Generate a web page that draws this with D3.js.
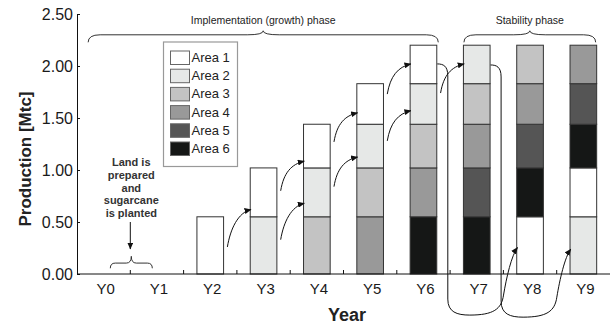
<!DOCTYPE html>
<html>
<head>
<meta charset="utf-8">
<script src="https://cdn.jsdelivr.net/npm/d3@7"></script>
<style>
  html, body { margin: 0; padding: 0; background: #ffffff; }
  svg { display: block; font-family: "Liberation Sans", Arial, sans-serif; }
</style>
</head>
<body>
<svg id="chart" width="613" height="329"></svg>
<script>
// ---------------- data ----------------
const years = ["Y0", "Y1", "Y2", "Y3", "Y4", "Y5", "Y6", "Y7", "Y8", "Y9"];
const areas = ["Area 1", "Area 2", "Area 3", "Area 4", "Area 5", "Area 6"];
const areaColors = ["#ffffff", "#e6e8e7", "#c3c3c3", "#999999", "#555555", "#151716"];

// production [Mtc] of each area per year (Y0..Y9)
const area1 = [0, 0, 0.55, 0.47, 0.42, 0.39, 0.37, 0,    0.55, 0.47];
const area2 = [0, 0, 0,    0.55, 0.47, 0.42, 0.39, 0.37, 0,    0.55];
const area3 = [0, 0, 0,    0,    0.55, 0.47, 0.42, 0.39, 0.37, 0   ];
const area4 = [0, 0, 0,    0,    0,    0.55, 0.47, 0.42, 0.39, 0.37];
const area5 = [0, 0, 0,    0,    0,    0,    0,    0.47, 0.42, 0.39];
const area6 = [0, 0, 0,    0,    0,    0,    0.55, 0.55, 0.47, 0.42];
const areaSeries = [area1, area2, area3, area4, area5, area6];

const yTicks = [0, 0.5, 1.0, 1.5, 2.0, 2.5];
const yTitle = "Production [Mtc]";
const xTitle = "Year";

const phases = [
  { label: "Implementation (growth) phase", from: "Y0", to: "Y6" },
  { label: "Stability phase", from: "Y7", to: "Y9" }
];
const plantingNote = ["Land is", "prepared", "and", "sugarcane", "is planted"];

// short arrows: area shifting one position up next year (values in Mtc)
const shiftArrows = [
  { from: "Y2", to: "Y3", v0: 0.26, v1: 0.62 },
  { from: "Y3", to: "Y4", v0: 0.33, v1: 0.68 },
  { from: "Y3", to: "Y4", v0: 0.80, v1: 1.085 },
  { from: "Y4", to: "Y5", v0: 0.84, v1: 1.125 },
  { from: "Y4", to: "Y5", v0: 1.27, v1: 1.55 },
  { from: "Y5", to: "Y6", v0: 1.28, v1: 1.57 },
  { from: "Y5", to: "Y6", v0: 1.73, v1: 2.02 },
  { from: "Y6", to: "Y7", v0: 1.74, v1: 2.02 }
];
// long arrows: replanting of the oldest area
const replantArrows = [
  { from: "Y6", to: "Y8", v0: 2.02, vLow: -0.395, v1: 0.255 },
  { from: "Y7", to: "Y9", v0: 2.01, vLow: -0.415, v1: 0.24 }
];

// ---------------- layout ----------------
const svg = d3.select("#chart");
const mLeft = 77, mRight = 610, mTop = 14, mBottom = 274;
const ink = "#222";

const x = d3.scaleBand().domain(years).range([mLeft, mRight]).paddingInner(0.5).paddingOuter(0.25);
const y = d3.scaleLinear().domain([0, 2.5]).range([mBottom, mTop]);
const bw = x.bandwidth();
const step = x.step();
const cx = d => x(d) + bw / 2;
const boundaryBefore = d => x(d) - (step - bw) / 2;

// defs: arrowhead
svg.append("defs").append("marker")
  .attr("id", "ah").attr("viewBox", "0 -3 7 6")
  .attr("refX", 6.5).attr("refY", 0)
  .attr("markerWidth", 7).attr("markerHeight", 6)
  .attr("markerUnits", "userSpaceOnUse")
  .attr("orient", "auto")
  .append("path").attr("d", "M0,-3L7,0L0,3Z").attr("fill", "#111");

// ---------------- bars ----------------
const stacks = [];
years.forEach((yr, i) => {
  const items = areaSeries.map((s, a) => ({ a, v: s[i] })).filter(d => d.v > 0)
    .sort((p, q) => q.v - p.v);
  let acc = 0;
  items.forEach(d => { stacks.push({ year: yr, a: d.a, y0: acc, y1: acc + d.v }); acc += d.v; });
});

svg.append("g").selectAll("rect").data(stacks).join("rect")
  .attr("x", d => x(d.year))
  .attr("width", bw)
  .attr("y", d => y(d.y1))
  .attr("height", d => y(d.y0) - y(d.y1))
  .attr("fill", d => areaColors[d.a])
  .attr("stroke", "#333").attr("stroke-width", 1);

// ---------------- axes ----------------
const yAxis = d3.axisLeft(y).tickValues(yTicks).tickFormat(d3.format(".2f"))
  .tickSizeInner(-3).tickSizeOuter(0).tickPadding(4);
const gy = svg.append("g").attr("transform", `translate(${mLeft},0)`).call(yAxis);
gy.select(".domain").attr("stroke", "#111");
gy.selectAll(".tick line").attr("stroke", "#111");
gy.selectAll("text").attr("font-size", 16).attr("fill", "#1a1a1a").attr("font-family", "Liberation Sans, Arial, sans-serif");

const xAxis = d3.axisBottom(x).tickSize(0).tickPadding(9);
const gx = svg.append("g").attr("transform", `translate(0,${mBottom})`).call(xAxis);
gx.select(".domain").attr("d", `M${mLeft},0H${mRight}`).attr("stroke", "#111");
gx.selectAll("text").attr("font-size", 15).attr("fill", "#1a1a1a").attr("dx", 2)
  .attr("font-family", "Liberation Sans, Arial, sans-serif");
// small inner ticks at category boundaries
svg.append("g").selectAll("line").data(years.slice(1)).join("line")
  .attr("x1", d => boundaryBefore(d)).attr("x2", d => boundaryBefore(d))
  .attr("y1", mBottom).attr("y2", mBottom - 4)
  .attr("stroke", "#111");

// axis titles
svg.append("text")
  .attr("transform", `translate(31,${(mTop + mBottom) / 2 + 15}) rotate(-90)`)
  .attr("text-anchor", "middle").attr("font-size", 17).attr("font-weight", "bold").attr("fill", ink)
  .text(yTitle);
svg.append("text")
  .attr("x", (mLeft + mRight) / 2 + 3.5).attr("y", 321)
  .attr("text-anchor", "middle").attr("font-size", 18).attr("font-weight", "bold").attr("fill", ink)
  .text(xTitle);

// ---------------- braces ----------------
function brace(x0, x1, yEnd, yFlat, yTip, r, rc) {
  const xc = (x0 + x1) / 2;
  return `M${x0},${yEnd}Q${x0},${yFlat} ${x0 + r},${yFlat}L${xc - rc},${yFlat}` +
    `Q${xc},${yFlat} ${xc},${yTip}Q${xc},${yFlat} ${xc + rc},${yFlat}` +
    `L${x1 - r},${yFlat}Q${x1},${yFlat} ${x1},${yEnd}`;
}
const gPh = svg.append("g");
const yFlat = y(2.3);
phases.forEach((p, i) => {
  const x0 = i === 0 ? cx(p.from) - 15.5 : x(p.from) + 0.5;
  const x1 = x(p.to) + bw + 0.5 - (i === 0 ? -1 : 1.5);
  gPh.append("path").attr("d", brace(x0, x1, yFlat + 7.5, yFlat, yFlat - 4, 12, 16))
    .attr("fill", "none").attr("stroke", "#333").attr("stroke-width", 1);
  gPh.append("text").attr("x", (x0 + x1) / 2).attr("y", yFlat - 11)
    .attr("text-anchor", "middle").attr("font-size", 10.5).attr("fill", ink).text(p.label);
});

// planting note
const noteX = boundaryBefore("Y1") + 1;
const gNote = svg.append("g");
plantingNote.forEach((t, i) => {
  gNote.append("text").attr("x", noteX).attr("y", 166 + i * 12.75)
    .attr("text-anchor", "middle").attr("font-size", 11).attr("font-weight", "bold")
    .attr("fill", "#333").text(t);
});
gNote.append("line").attr("x1", noteX - 1).attr("x2", noteX - 1).attr("y1", 222).attr("y2", 249)
  .attr("stroke", "#111").attr("marker-end", "url(#ah)");
gNote.append("path")
  .attr("d", brace(noteX - 21, noteX + 21, y(0.055), y(0.105), y(0.17), 5, 5))
  .attr("fill", "none").attr("stroke", "#333");

// ---------------- arrows ----------------
const gA = svg.append("g").attr("fill", "none").attr("stroke", "#111").attr("stroke-width", 1);
shiftArrows.forEach(a => {
  const sx = x(a.from) + bw + 3.8, sy = y(a.v0);
  const ex = x(a.to) + 0.8, ey = y(a.v1);
  gA.append("path")
    .attr("d", `M${sx},${sy}C${sx + 3},${sy - 18} ${ex - 13},${ey + 3} ${ex},${ey}`)
    .attr("marker-end", "url(#ah)");
});
replantArrows.forEach(a => {
  const sx = x(a.from) + bw + 0.5, sy = y(a.v0);
  const gxp = boundaryBefore(years[years.indexOf(a.from) + 1]) - 2.3;
  const by = y(a.vLow);
  const ex = x(a.to) + 0.8, ey = y(a.v1);
  const d = `M${sx},${sy}C${sx + 6},${sy} ${gxp},${sy + 2} ${gxp},${sy + 12}` +
    `L${gxp},${by - 16}C${gxp},${by - 3} ${gxp + 9},${by} ${gxp + 22},${by}` +
    `C${ex - 24},${by} ${ex - 16},${by - 6} ${ex - 14},${by - 20}` +
    `C${ex - 11},${by - 38} ${ex - 6},${ey + 8} ${ex},${ey}`;
  gA.append("path").attr("d", d).attr("marker-end", "url(#ah)");
});

// ---------------- legend ----------------
const lg = svg.append("g").attr("transform", "translate(163.5,42)");
lg.append("rect").attr("width", 74).attr("height", 124.5)
  .attr("fill", "#fff").attr("stroke", "#999").attr("stroke-width", 1.2);
areas.forEach((name, i) => {
  const row = lg.append("g").attr("transform", `translate(7,${9 + i * 18.2})`);
  row.append("rect").attr("width", 19).attr("height", 13.5)
    .attr("fill", areaColors[i]).attr("stroke", "#666").attr("stroke-width", 1);
  row.append("text").attr("x", 21).attr("y", 11).attr("font-size", 13)
    .attr("fill", ink).text(name);
});
</script>
</body>
</html>
